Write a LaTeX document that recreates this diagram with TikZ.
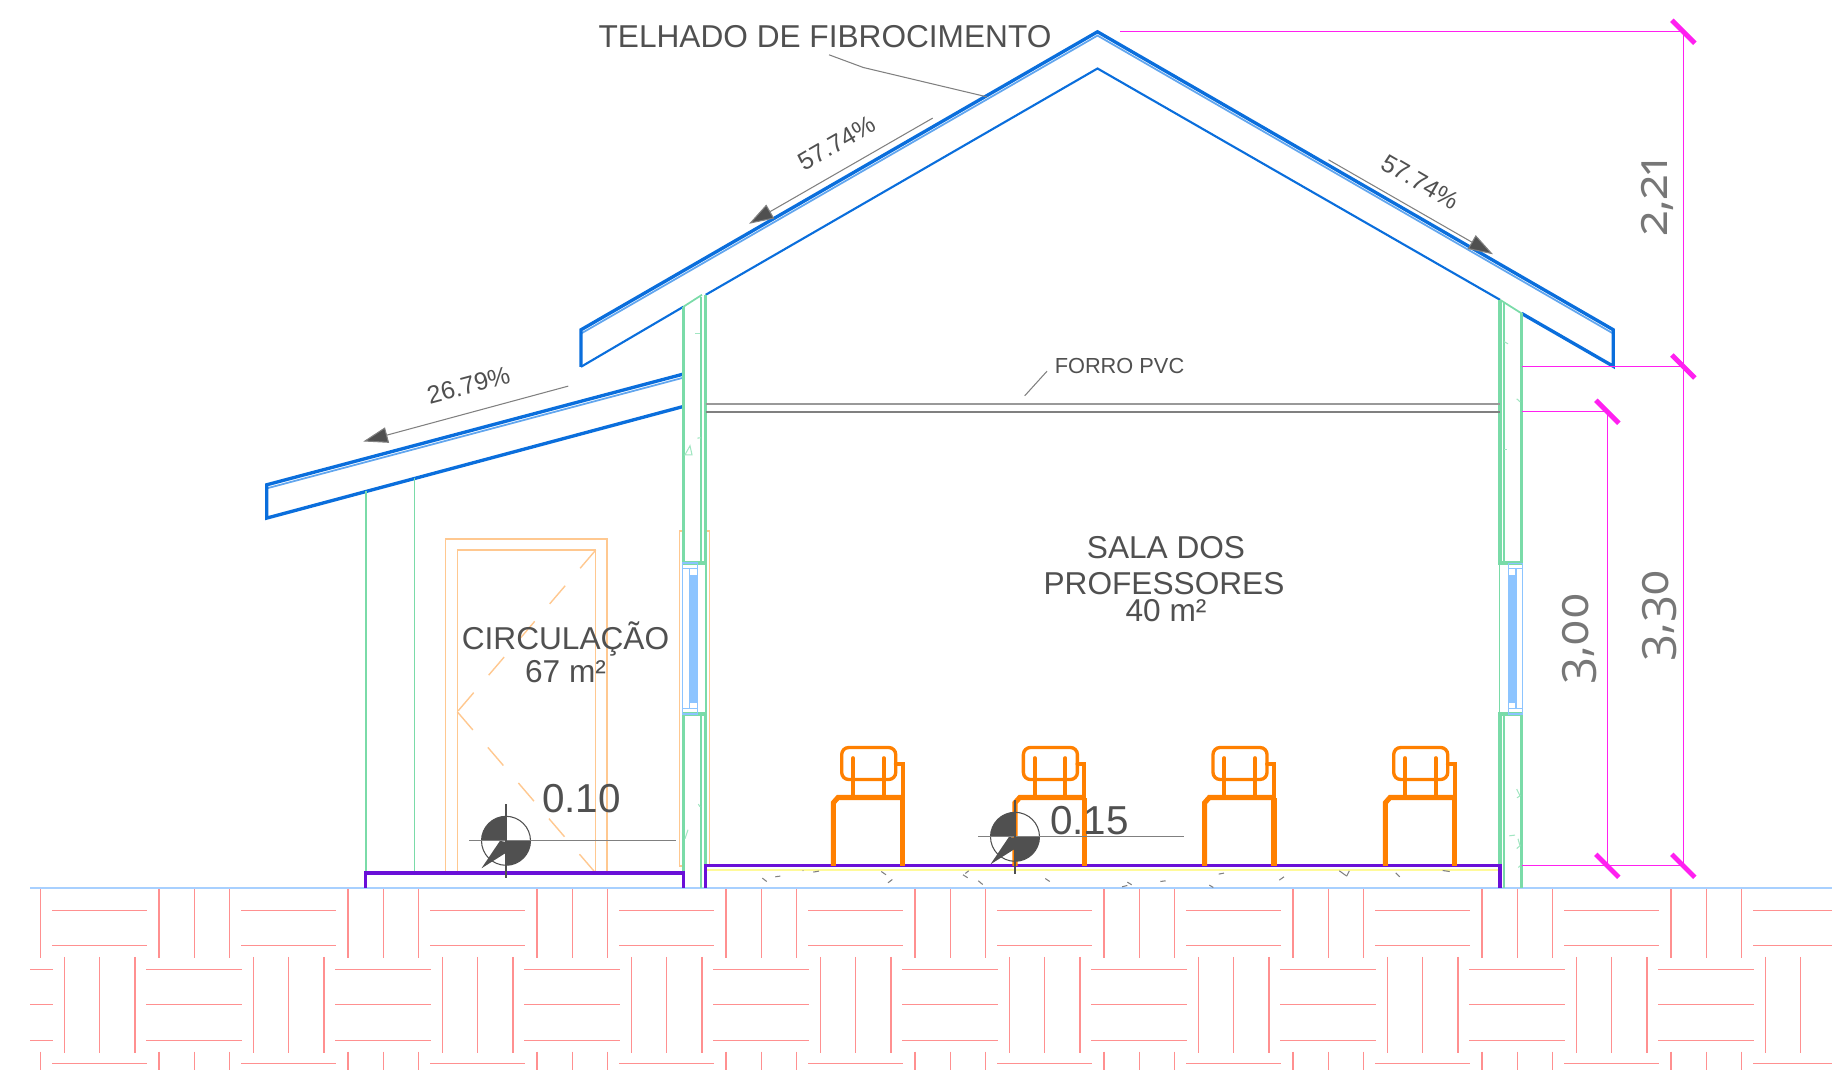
\documentclass[tikz,border=0pt]{standalone}
\usepackage{fontspec}
\setmainfont{Liberation Sans}
\newfontfamily\dimfont[Numbers=OldStyle]{Open Sans}
\usetikzlibrary{arrows.meta}
\definecolor{roofblue}{HTML}{0A6EDC}
\definecolor{rooflight}{HTML}{62A6EE}
\definecolor{wallgreen}{HTML}{7ADBA8}
\definecolor{doororange}{HTML}{FFC890}
\definecolor{chairorange}{HTML}{FF8000}
\definecolor{floorpurple}{HTML}{6A0FD8}
\definecolor{groundblue}{HTML}{A8D0FF}
\definecolor{glassblue}{HTML}{8CC4FF}
\definecolor{tilered}{HTML}{FF9090}
\definecolor{dimpink}{HTML}{FF20F0}
\definecolor{labelgray}{HTML}{505050}
\definecolor{dimgray}{HTML}{777777}

\begin{document}
\begin{tikzpicture}[x=0.02cm, y=-0.02cm]
        \tikzstyle{tile} = [draw=tilered, line width=0.7pt];
        \tikzstyle{roofthick} = [draw=roofblue, line width=1.9pt, line join=miter];
        \tikzstyle{roofthin} = [draw=rooflight, line width=1pt];
        \tikzstyle{roofunder} = [draw=roofblue, line width=1.2pt];
        \tikzstyle{wallthick} = [draw=wallgreen, line width=2pt];
        \tikzstyle{wallthin} = [draw=wallgreen, line width=1pt];
        \tikzstyle{wallmark} = [draw=wallgreen!70, line width=0.6pt];
        \tikzstyle{doorline} = [draw=doororange, line width=0.8pt];
        \tikzstyle{windowline} = [draw=glassblue, line width=0.8pt];
        \tikzstyle{floorline} = [draw=floorpurple, line width=1.9pt];
        \tikzstyle{chairline} = [draw=chairorange, line cap=round];
        \tikzstyle{dimline} = [draw=dimpink, line width=0.7pt];
        \tikzstyle{dimtick} = [draw=dimpink, line width=2.8pt];
        \tikzstyle{leader} = [draw=gray, line width=0.6pt];
        \tikzstyle{slopearrow} = [leader, -{Triangle[length=14pt, width=9pt, fill=labelgray]}];
        \tikzstyle{bigtext} = [text=labelgray, inner sep=0pt, font=\fontsize{18}{18}\selectfont];
        \tikzstyle{slopetext} = [text=labelgray, inner sep=0pt, font=\fontsize{14.2}{15}\selectfont];
        \tikzstyle{leveltext} = [text=labelgray, inner sep=0pt, font=\fontsize{23}{23}\selectfont];
        \tikzstyle{dimtext} = [text=dimgray, inner sep=0pt, rotate=90, font=\dimfont\fontsize{26.8}{28}\selectfont];

        \useasboundingbox (0,-0.8) rectangle (1832,1069.2);

        % ground hatch
        \begin{scope}
            \clip (30,880) rectangle (1832,1070);
            \foreach \k in {-1,...,9} {
                \pgfmathsetmacro{\p}{189*\k}
                \foreach \vx in {159,194.3,229.7} {
                    \draw[tile] (\vx+\p,887) -- (\vx+\p,957.3);
                    \draw[tile] (\vx+\p,1050.7) -- (\vx+\p,1070);
                }
                \foreach \vx in {64.3,99.7,135} {
                    \draw[tile] (\vx+\p,956) -- (\vx+\p,1052);
                }
                \foreach \hy in {909.7,945,1063} {
                    \draw[tile] (52.3+\p,\hy) -- (147.3+\p,\hy);
                }
                \foreach \hy in {968.7,1004,1039.7} {
                    \draw[tile] (146.3+\p,\hy) -- (242+\p,\hy);
                }
            }
        \end{scope}
        \draw[draw=groundblue, line width=1.3pt] (30,887.5) -- (1832,887.5);

        % door
        \draw[doorline] (445.7,872.3) -- (445.7,538.3) -- (607,538.3) -- (607,872.3);
        \draw[doorline] (457.3,872.3) -- (457.3,549.3) -- (595.7,549.3) -- (595.7,872.3);
        \draw[doorline, dash pattern=on 13.6pt off 13.1pt] (595.7,549.3) -- (457.3,711);
        \draw[doorline, dash pattern=on 13.6pt off 13.1pt] (457.3,711) -- (595.7,872.3);
        \draw[doorline] (684,530) -- (679.3,530) -- (679.3,865) -- (684,865);
        \draw[doorline] (705,530) -- (709.3,530) -- (709.3,864);

        % roof
        \draw[roofthin] (581,332.8) -- (1097.5,34.8) -- (1613.3,332.8);
        \draw[roofthick] (581,366) -- (581,329) -- (1097.5,31) -- (1613.3,329) -- (1613.3,365.5) -- (1521.7,312.7);
        \draw[roofunder] (1500,299) -- (1097.5,67.7) -- (705.7,294);
        \draw[roofunder] (683.3,306) -- (581,366);
        \draw[roofthin] (266.7,487.6) -- (683.3,376.9);
        \draw[roofthick] (683.3,373.3) -- (266.7,484) -- (266.7,517.3) -- (683.3,405.7);

        % walls
        \draw[wallthin] (683.3,306) -- (702,294);
        \draw[wallthin] (1500,299) -- (1521.7,312.7);
        \draw[wallthick] (683.3,306) -- (683.3,562) -- (705.7,562) -- (705.7,294);
        \draw[wallthin] (701.3,296) -- (701.3,562);
        \draw[wallthick] (683.3,887) -- (683.3,713.3) -- (705.7,713.3) -- (705.7,887);
        \draw[wallthin] (701.3,713.3) -- (701.3,887);
        \draw[wallthin] (705.7,562) -- (705.7,713.3);
        \draw[wallthick] (1500,299) -- (1500,562) -- (1521.7,562) -- (1521.7,312.7);
        \draw[wallthin] (1504.3,302) -- (1504.3,562);
        \draw[wallthick] (1500,887) -- (1500,713.3) -- (1521.7,713.3) -- (1521.7,887);
        \draw[wallthin] (1504.3,713.3) -- (1504.3,887);
        \draw[wallthin] (1499.5,562) -- (1499.5,713.3);
        \draw[wallthin] (365.7,490.7) -- (365.7,871);
        \draw[wallthin] (414.5,477.3) -- (414.5,871);

        % small marks inside the walls
        \draw[wallmark] (685,454) -- (690,445) -- (692,454) -- cycle;
        \draw[wallmark] (695,333) -- (700,333);
        \draw[wallmark] (697.3,437.3) -- (701,437);
        \draw[wallmark] (685,838) -- (688,829);
        \draw[wallmark] (698.3,803.3) -- (700,806);
        \draw[wallmark] (1504.3,341) -- (1508,343);
        \draw[wallmark] (1516.7,398) -- (1520,401);
        \draw[wallmark] (1504.3,448.3) -- (1507,448.3);
        \draw[wallmark] (1516.7,788.3) -- (1520,795) -- (1517,797);
        \draw[wallmark] (1509.3,835) -- (1515,834.3);
        \draw[wallmark] (1518,838) -- (1520,845) -- (1516.7,847.7);
        \draw[wallmark] (1518.3,866.7) -- (1520,865);

        % windows
        \draw[windowline] (682.7,562) rectangle (697.3,713);
        \draw[windowline] (682.7,567.7) -- (697.3,567.7);
        \draw[windowline] (682.7,707.7) -- (697.3,707.7);
        \draw[windowline, fill=glassblue] (689.3,575) rectangle (696.7,701.5);
        \draw[windowline] (689.3,567.7) -- (689.3,707.7);
        \draw[windowline] (1508.3,562.5) rectangle (1522.7,713);
        \draw[windowline] (1508.3,567.7) -- (1522.7,567.7);
        \draw[windowline] (1508.3,707.7) -- (1522.7,707.7);
        \draw[windowline, fill=glassblue] (1509,575) rectangle (1516,701.7);
        \draw[windowline] (1516,567.7) -- (1516,707.7);

        % ceiling
        \draw[draw=gray!80, line width=0.9pt] (705.7,403.3) -- (1500,403.3);
        \draw[draw=gray, line width=0.9pt] (705.7,411) -- (1500,411);

        % slabs
        \draw[draw=yellow!40, line width=1pt] (707,869.5) -- (1499,869.5);
        \foreach \xa/\ya/\xb/\yb in {762.3/877.3/766.7/880.7, 775.3/876/780.3/875.3, 802.7/869.7/803.3/870,
            813.3/871.3/819/870.3, 881.3/870.7/886/874, 888/882/892.3/878.7, 965.3/872.7/968.7/870,
            963/874/967.7/877, 978.3/880/982.7/883.7, 1045.3/877.7/1049.7/880.7, 1122/886/1127.3/884.7,
            1127.3/881.3/1131.7/884, 1160.3/880.7/1165.7/880, 1218.7/873.3/1224/872.3, 1209.3/884.3/1213.3/886.7,
            1279.3/879.3/1284/876, 1339.3/870/1346.7/875.3, 1346.7/875.3/1349.3/870, 1395.7/872/1399.7/876,
            1442.7/869.7/1449.7/870.7} {
            \draw[draw=gray, line width=0.6pt] (\xa,\ya) -- (\xb,\yb);
        }
        \draw[floorline] (705.7,887) -- (705.7,865) -- (1500,865) -- (1500,887);
        \draw[floorline] (365.7,887) -- (365.7,872.3) -- (683.3,872.3) -- (683.3,887);

        % chairs
        \foreach \cx in {0,181.7,371.3,552} {
            \begin{scope}[shift={(\cx,0)}]
                \draw[chairline, line width=2.9pt, line cap=butt] (833.3,865) -- (833.3,802) -- (838,796.7) -- (902.7,796.7);
                \draw[chairline, line width=2.9pt, line cap=butt] (902.7,865) -- (902.7,796.7);
                \draw[chairline, line width=2.2pt] (902.7,796.7) -- (902.7,763.5) -- (895.7,763.5);
                \draw[chairline, line width=1.9pt, rounded corners=4pt] (841.7,746.7) rectangle (895.7,778.7);
                \draw[chairline, line width=2.2pt] (853,757.3) -- (853,796.7);
                \draw[chairline, line width=2.2pt] (883.7,757.3) -- (883.7,796.7);
            \end{scope}
        }

        % level marks
        \foreach \lx/\ly/\lr/\lv in {506/840/675.7/876.7, 1015/836/1183.6/872.7} {
            \begin{scope}[shift={(\lx,\ly)}]
                \fill[labelgray] (0,0) -- (-24.5,0) arc[start angle=180, end angle=90, radius=24.5*0.02cm] -- cycle;
                \fill[labelgray] (0,0) -- (24.5,0) arc[start angle=0, end angle=-90, radius=24.5*0.02cm] -- cycle;
                \fill[labelgray] (-6,0) -- (-24.5,27.5) -- (0,12) -- (4,2) -- cycle;
                \draw[draw=labelgray, line width=0.6pt] (0,0) circle[radius=24.5*0.02cm];
            \end{scope}
            \draw[leader] (\lx-36.7,\ly) -- (\lr,\ly);
            \draw[draw=labelgray, line width=0.6pt] (\lx,\ly-36.7) -- (\lx,\lv);
        }

        % dimensions
        \coordinate (roofapex) at (1120,31);
        \coordinate (dimtop) at (1683.3,31);
        \coordinate (dimeave) at (1683.3,365.7);
        \coordinate (dimfloor) at (1683.3,865);
        \coordinate (dimceil) at (1607.3,411);
        \coordinate (dimfloorb) at (1607.3,865);
        \draw[dimline] (roofapex) -- (dimtop) -- (dimeave) -- (dimfloor);
        \draw[dimline] (1522,365.7) -- (dimeave);
        \draw[dimline] (1522,411) -- (dimceil) -- (dimfloorb);
        \draw[dimline] (1522,865) -- (dimfloor);
        \foreach \tn in {dimtop,dimeave,dimfloor,dimceil,dimfloorb} {
            \draw[dimtick] ([shift={(-11.5,-11.5)}]\tn) -- ([shift={(11.5,11.5)}]\tn);
        }

        % slopes and leaders
        \draw[slopearrow] (932.7,117.3) -- (749,223);
        \draw[slopearrow] (1328.5,159) -- (1493,253.5);
        \draw[slopearrow] (568.3,385.3) -- (363.3,440.7);
        \draw[leader] (829,54) -- (863.3,66.7) -- (986.7,96);
        \draw[leader] (1024.7,395) -- (1047,370.4);

        % labels
        \node(telhado) [bigtext] at (825,35.8) {TELHADO DE FIBROCIMENTO};
        \node(forro) [text=labelgray, inner sep=0pt, font=\fontsize{12.4}{13}\selectfont] at (1119.5,365.3) {FORRO PVC};
        \node(sala) [bigtext] at (1166,546.8) {SALA DOS};
        \node(professores) [bigtext] at (1164,582.8) {PROFESSORES};
        \node(salaarea) [bigtext] at (1166,609.8) {40 m²};
        \node(circulacao) [bigtext] at (565.5,637.8) {CIRCULAÇÃO};
        \node(circarea) [bigtext] at (565.5,670.8) {67 m²};
        \node(levela) [leveltext] at (581.5,797.8) {0.10};
        \node(levelb) [leveltext] at (1089.5,819.8) {0.15};
        \node(slopea) [slopetext, rotate=30] at (836.6,142.5) {57.74\%};
        \node(slopeb) [slopetext, rotate=-30] at (1420.8,181) {57.74\%};
        \node(slopec) [slopetext, rotate=15] at (468.5,384.4) {26.79\%};
        \node(dima) [dimtext] at (1657,196) {2,21};
        \node(dimb) [dimtext] at (1660,614.6) {3,30};
        \node(dimc) [dimtext] at (1579.7,638) {3,00};

    \end{tikzpicture}
\end{document}
